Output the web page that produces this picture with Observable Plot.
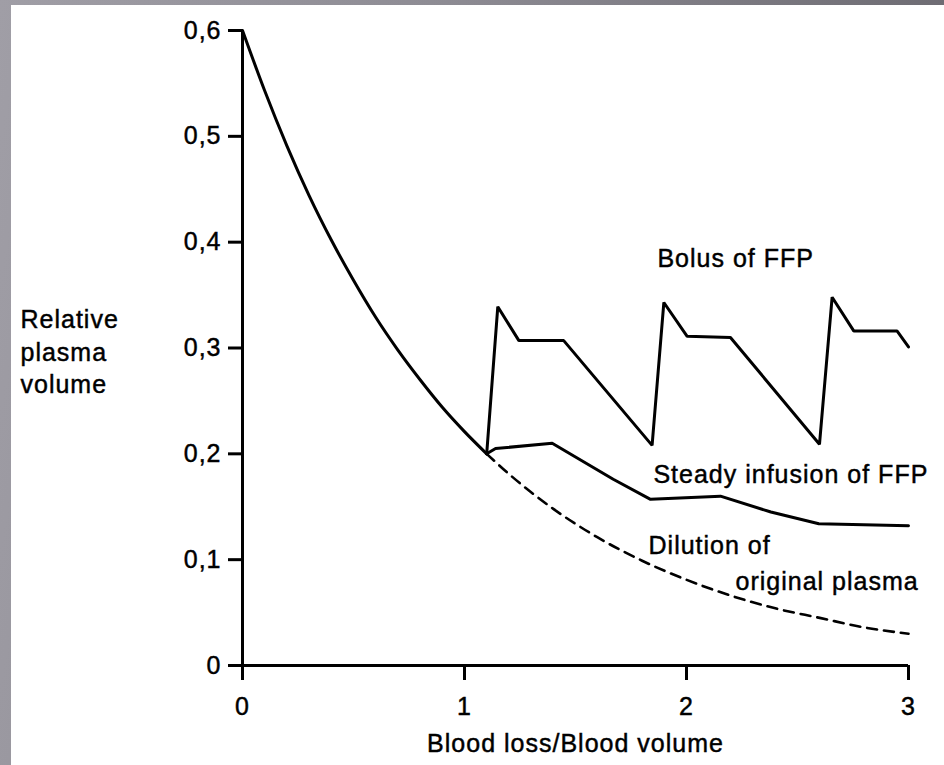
<!DOCTYPE html>
<html>
<head>
<meta charset="utf-8">
<script src="https://cdn.jsdelivr.net/npm/d3@7"></script>
<script src="https://cdn.jsdelivr.net/npm/@observablehq/plot@0.6"></script>
<style>
  html, body { margin: 0; padding: 0; }
  body {
    width: 944px; height: 765px; overflow: hidden; position: relative;
    background: linear-gradient(100deg, #a09ea6 0%, #8e8c94 40%, #66646b 100%);
  }
  #chart { position: absolute; left: 11px; top: 5px; width: 933px; height: 760px; background: white; }
  #chart svg text { stroke: black; stroke-width: 0.45px; }
</style>
</head>
<body>
<div id="chart"></div>
<script>
// Main decline (original plasma before replacement)
const mainX = [0, 0.1, 0.2, 0.3, 0.4, 0.5, 0.6, 0.7, 0.8, 0.9, 1.0, 1.1];
const mainY = [0.600, 0.543, 0.491, 0.444, 0.402, 0.364, 0.329, 0.298, 0.270, 0.244, 0.221, 0.200];

// Dilution of original plasma (dashed)
const dilX = [1.1, 1.2, 1.4, 1.6, 1.8, 2.0, 2.2, 2.4, 2.6, 2.8, 3.0];
const dilY = [0.200, 0.181, 0.148, 0.121, 0.099, 0.081, 0.066, 0.054, 0.045, 0.036, 0.030];

// Bolus of FFP
const bolusX = [1.1, 1.15, 1.245, 1.447, 1.845, 1.898, 2.003, 2.198, 2.599, 2.656, 2.754, 2.949, 3.0];
const bolusY = [0.200, 0.339, 0.307, 0.307, 0.208, 0.343, 0.311, 0.310, 0.209, 0.348, 0.316, 0.316, 0.301];

// Steady infusion of FFP
const steadyX = [1.1, 1.14, 1.395, 1.67, 1.838, 2.153, 2.38, 2.596, 3.0];
const steadyY = [0.200, 0.205, 0.210, 0.176, 0.157, 0.160, 0.145, 0.134, 0.132];

// Ticks
const xTicks = [0, 1, 2, 3];
const yTicks = [0, 0.1, 0.2, 0.3, 0.4, 0.5, 0.6];

// Text
const xLabel = "Blood loss/Blood volume";
const yLabelLines = ["Relative", "plasma", "volume"];
const annoText = ["Bolus of FFP", "Steady infusion of FFP", "Dilution of", "original plasma"];
const annoX = [1.869, 1.851, 1.829, 2.221];
const annoY = [0.3837, 0.1796, 0.1125, 0.0785];

const toPts = (xs, ys) => xs.map((x, i) => ({x, y: ys[i]}));
const annos = annoText.map((t, i) => ({text: t, x: annoX[i], y: annoY[i]}));
const yLab = [{text: yLabelLines.join("\n"), x: -1.0, y: 0.2977}];

const fmt = d => d === 0 ? "0" : d.toFixed(1).replace(".", ",");

const chart = Plot.plot({
  width: 933,
  height: 760,
  marginLeft: 231,
  marginRight: 36,
  marginTop: 25,
  marginBottom: 100,
  x: {domain: [0, 3]},
  y: {domain: [0, 0.6]},
  style: {
    fontFamily: "'Liberation Sans', Arial, sans-serif",
    fontSize: "25px",
    color: "black",
    background: "white",
    overflow: "visible",
    letterSpacing: "1px"
  },
  marks: [
    Plot.axisY(yTicks, {tickSize: 14, tickPadding: 7, tickFormat: fmt, strokeWidth: 3, fontSize: 25, label: null}),
    Plot.axisX(xTicks, {tickSize: 15, tickPadding: 17, tickFormat: d => String(d), strokeWidth: 3, fontSize: 25, label: null}),
    Plot.ruleX([0], {stroke: "black", strokeWidth: 3}),
    Plot.ruleY([0], {stroke: "black", strokeWidth: 3}),
    Plot.line(toPts(mainX, mainY), {x: "x", y: "y", stroke: "black", strokeWidth: 3, curve: "monotone-x"}),
    Plot.line(toPts(dilX, dilY), {x: "x", y: "y", stroke: "black", strokeWidth: 2.6, strokeDasharray: "10,7", curve: "monotone-x"}),
    Plot.line(toPts(bolusX, bolusY), {x: "x", y: "y", stroke: "black", strokeWidth: 3, strokeLinejoin: "miter"}),
    Plot.line(toPts(steadyX, steadyY), {x: "x", y: "y", stroke: "black", strokeWidth: 3}),
    Plot.text(annos, {x: "x", y: "y", text: "text", textAnchor: "start", fontSize: 25, fill: "black"}),
    Plot.text(yLab, {x: "x", y: "y", text: "text", textAnchor: "start", lineHeight: 1.3, fontSize: 25, fill: "black"}),
    Plot.text([xLabel], {frameAnchor: "bottom", dy: 86, text: d => d, fontSize: 25, fill: "black"})
  ]
});
document.getElementById("chart").appendChild(chart);
</script>
</body>
</html>
